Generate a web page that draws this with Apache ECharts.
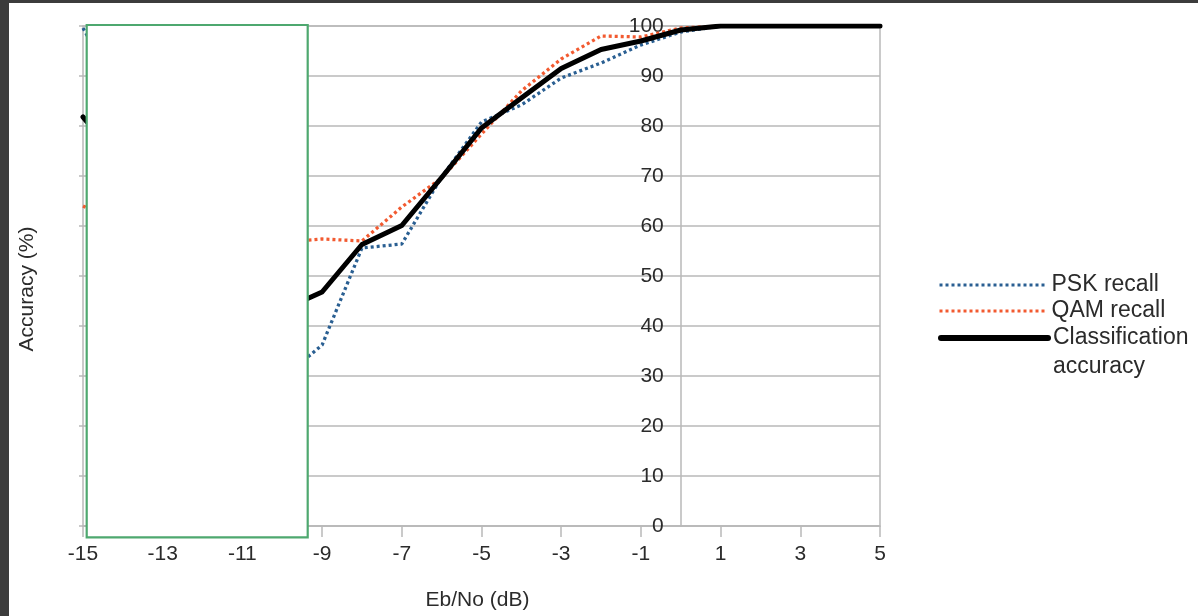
<!DOCTYPE html>
<html>
<head>
<meta charset="utf-8">
<title>Accuracy vs Eb/No</title>
<script src="https://cdn.jsdelivr.net/npm/echarts@6/dist/echarts.min.js"></script>
<style>
  html, body { margin: 0; padding: 0; width: 1198px; height: 616px; background: #3c3c3c; overflow: hidden; }
  #chart { position: absolute; left: 9px; top: 3px; width: 1189px; height: 613px; background: #ffffff; }
</style>
</head>
<body>
<div id="chart"></div>
<script>
// Eb/No steps (dB)
const ebno = [-15, -14, -13, -12, -11, -10, -9, -8, -7, -6, -5, -4, -3, -2, -1, 0, 1, 2, 3, 4, 5];
// Recall per modulation family and overall accuracy (%)
const pskRecall = [99.6, 85, 62, 45, 36, 29.5, 36.2, 55.6, 56.4, 69.8, 80.8, 84.2, 89.6, 92.6, 96.2, 98.8, 100, 100, 100, 100, 100];
const qamRecall = [64, 60, 57, 55.5, 56, 56.8, 57.4, 57, 63.8, 69.6, 78.4, 87, 93.4, 98, 97.8, 99.6, 100, 100, 100, 100, 100];
const accuracy  = [81.8, 72.5, 59.5, 50.2, 46, 43.2, 46.8, 56.3, 60.1, 69.7, 79.6, 85.6, 91.5, 95.3, 97, 99.2, 100, 100, 100, 100, 100];
// Tick labels on the Eb/No axis
const xTicks = [-15, -13, -11, -9, -7, -5, -3, -1, 1, 3, 5];

const FONT = 'Liberation Sans';
const TEXT = '#2b2b2b';
const GRID = '#b9b9b9';
const X_MIN = -15, X_MAX = 5;

// plot area inside the chart container
const PLOT = { left: 74, right: 318, top: 23, bottom: 90 };
const plotWidth = 1189 - PLOT.left - PLOT.right;
// the value axis crosses the Eb/No axis at 0 dB
const crossOffset = -plotWidth * (0 - X_MIN) / (X_MAX - X_MIN);

const pairs = (ys) => ebno.map((x, i) => [x, ys[i]]);

const chart = echarts.init(document.getElementById('chart'), null, { renderer: 'canvas' });
chart.setOption({
  animation: false,
  textStyle: { fontFamily: FONT },
  grid: Object.assign({
    show: true, borderColor: GRID, borderWidth: 1.5, backgroundColor: 'transparent'
  }, PLOT),
  xAxis: {
    type: 'value', min: X_MIN, max: X_MAX,
    name: 'Eb/No (dB)', nameLocation: 'middle', nameGap: 64,
    nameTextStyle: { fontFamily: FONT, fontSize: 21, color: TEXT, padding: [0, 8, 0, 0] },
    axisLine: { show: true, onZero: false, lineStyle: { color: GRID, width: 1.5 } },
    axisTick: { show: true, length: 11, customValues: xTicks, lineStyle: { color: GRID, width: 1.5 } },
    axisLabel: { customValues: xTicks, margin: 18, fontFamily: FONT, fontSize: 21, color: TEXT },
    splitLine: { show: false }
  },
  yAxis: [
    {
      type: 'value', min: 0, max: 100, interval: 10, position: 'left', offset: crossOffset,
      axisLine: { show: true, onZero: false, lineStyle: { color: GRID, width: 1.5 } },
      axisTick: { show: false },
      axisLabel: { margin: 17, fontFamily: FONT, fontSize: 21, color: TEXT },
      splitLine: { show: true, lineStyle: { color: GRID, width: 1.5 } }
    },
    {
      type: 'value', min: 0, max: 100, interval: 10, position: 'left',
      name: 'Accuracy (%)', nameLocation: 'middle', nameGap: 45,
      nameTextStyle: { fontFamily: FONT, fontSize: 21, color: TEXT, padding: [0, 26, 0, 0] },
      axisLine: { show: false, onZero: false },
      axisTick: { show: true, length: 4, lineStyle: { color: GRID, width: 1.5 } },
      axisLabel: { show: false },
      splitLine: { show: false }
    }
  ],
  legend: [
    {
      data: [
        { name: 'PSK recall', lineStyle: { width: 3 } },
        { name: 'QAM recall', lineStyle: { width: 3 } }
      ],
      orient: 'vertical', left: 929, top: 269, padding: 0, itemGap: 0,
      itemWidth: 107, itemHeight: 14,
      itemStyle: { opacity: 0 },
      textStyle: { fontFamily: FONT, fontSize: 23, color: TEXT, lineHeight: 26 }
    },
    {
      data: [{ name: 'Classification accuracy', lineStyle: { width: 6 } }],
      orient: 'vertical', left: 929, top: 291.5, padding: 0,
      itemWidth: 107, itemHeight: 14,
      itemStyle: { opacity: 0 },
      // blank first line keeps "Classification" level with the legend line
      formatter: () => ' \nClassification\naccuracy',
      textStyle: { fontFamily: FONT, fontSize: 23, color: TEXT, lineHeight: 29 }
    }
  ],
  series: [
    {
      name: 'PSK recall', type: 'line', data: pairs(pskRecall), yAxisIndex: 0,
      symbol: 'none', color: '#2a5f92',
      lineStyle: { color: '#2a5f92', width: 3.3, type: [3, 3] }
    },
    {
      name: 'QAM recall', type: 'line', data: pairs(qamRecall), yAxisIndex: 0,
      symbol: 'none', color: '#f25a30',
      lineStyle: { color: '#f25a30', width: 3.3, type: [3, 3] }
    },
    {
      name: 'Classification accuracy', type: 'line', data: pairs(accuracy), yAxisIndex: 0,
      symbol: 'none', color: '#000000',
      lineStyle: { color: '#000000', width: 5, join: 'round', cap: 'round' }
    }
  ],
  graphic: [
    {
      type: 'rect', z: 100,
      shape: { x: 77.7, y: 22, width: 221, height: 512.3 },
      style: { fill: '#ffffff', stroke: '#4ea86f', lineWidth: 2.2 }
    }
  ]
});
</script>
</body>
</html>
